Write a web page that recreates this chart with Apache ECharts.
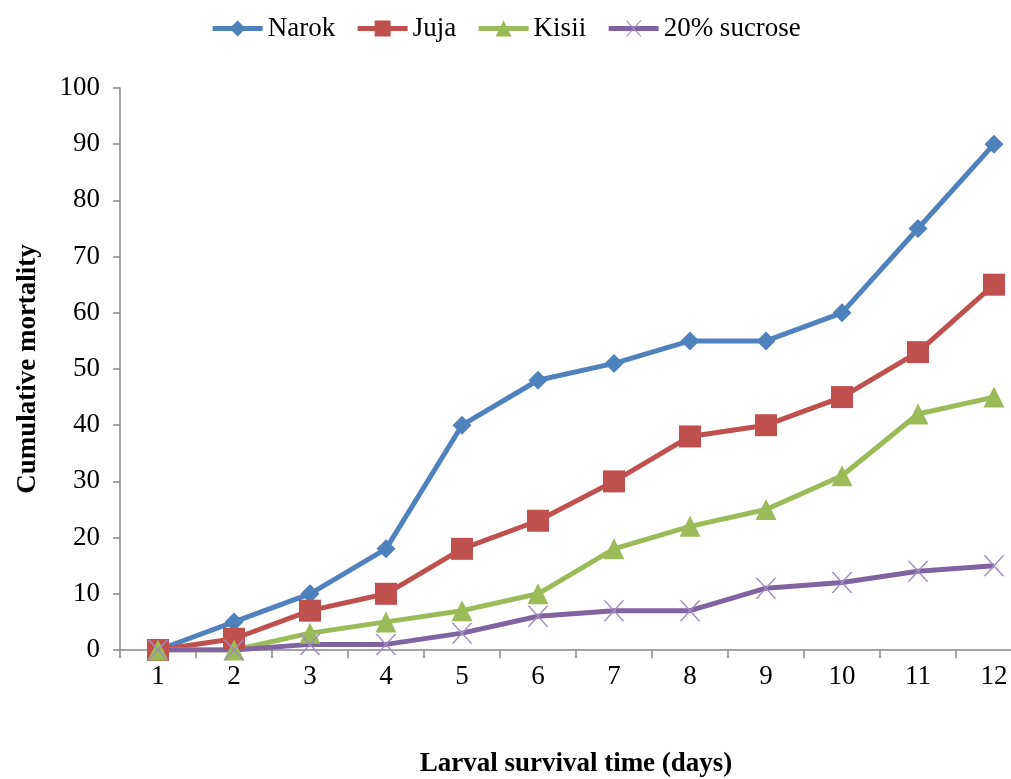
<!DOCTYPE html>
<html>
<head>
<meta charset="utf-8">
<script src="https://cdn.jsdelivr.net/npm/echarts@6/dist/echarts.min.js"></script>
<style>html,body{margin:0;padding:0;background:#fff}#c{width:1011px;height:779px}</style>
</head>
<body>
<div id="c"></div>
<script>
var days = ['1','2','3','4','5','6','7','8','9','10','11','12'];
var narok = [0, 5, 10, 18, 40, 48, 51, 55, 55, 60, 75, 90];
var juja = [0, 2, 7, 10, 18, 23, 30, 38, 40, 45, 53, 65];
var kisii = [0, 0, 3, 5, 7, 10, 18, 22, 25, 31, 42, 45];
var sucrose = [0, 0, 1, 1, 3, 6, 7, 7, 11, 12, 14, 15];
var seriesNames = ['Narok', 'Juja', 'Kisii', '20% sucrose'];

var FONT = '"Liberation Serif", "Times New Roman", serif';
var crossPath = 'path://M0,0 L1,0 L11,10 L10,10 Z M10,0 L11,0 L1,10 L0,10 Z';

var chart = echarts.init(document.getElementById('c'));
function mk(name, data, color, symbol, size, extra) {
  var s = {
    name: name, type: 'line', data: data,
    symbol: symbol, symbolSize: size,
    lineStyle: {color: color, width: 5},
    itemStyle: {color: color},
    emphasis: {disabled: true},
    animation: false
  };
  if (extra) Object.assign(s, extra);
  return s;
}
chart.setOption({
  backgroundColor: '#fff',
  textStyle: {fontFamily: FONT},
  legend: {
    top: 10, left: 'center',
    itemWidth: 50, itemHeight: 20, itemGap: 20,
    lineStyle: {width: 5},
    textStyle: {fontFamily: FONT, fontSize: 27, color: '#000'},
    data: seriesNames
  },
  grid: {left: 120, right: -21, top: 88, bottom: 129, containLabel: false, outerBoundsMode: 'none'},
  xAxis: {
    type: 'category', data: days, boundaryGap: true,
    name: 'Larval survival time (days)', nameLocation: 'middle', nameGap: 101,
    nameTextStyle: {fontFamily: FONT, fontSize: 27, fontWeight: 'bold', color: '#000'},
    axisLine: {lineStyle: {color: '#868686', width: 1.5}},
    axisTick: {show: true, length: 8, alignWithLabel: false, lineStyle: {color: '#868686', width: 1.5}},
    axisLabel: {fontFamily: FONT, fontSize: 27, color: '#000', margin: 13},
    splitLine: {show: false}
  },
  yAxis: {
    type: 'value', min: 0, max: 100, interval: 10,
    name: 'Cumulative mortality', nameLocation: 'middle', nameGap: 78, nameRotate: 90,
    nameTextStyle: {fontFamily: FONT, fontSize: 27, fontWeight: 'bold', color: '#000'},
    axisLine: {show: true, lineStyle: {color: '#868686', width: 1.5}},
    axisTick: {show: true, length: 7, lineStyle: {color: '#868686', width: 1.5}},
    axisLabel: {fontFamily: FONT, fontSize: 27, color: '#000', margin: 20},
    splitLine: {show: false}
  },
  series: [
    mk(seriesNames[0], narok, '#4F81BD', 'diamond', 19),
    mk(seriesNames[1], juja, '#C0504D', 'rect', 22),
    mk(seriesNames[2], kisii, '#9BBB59', 'triangle', 21),
    mk(seriesNames[3], sucrose, '#8064A2', crossPath, 21, {itemStyle: {color: '#A08CC0'}})
  ]
});
</script>
</body>
</html>
